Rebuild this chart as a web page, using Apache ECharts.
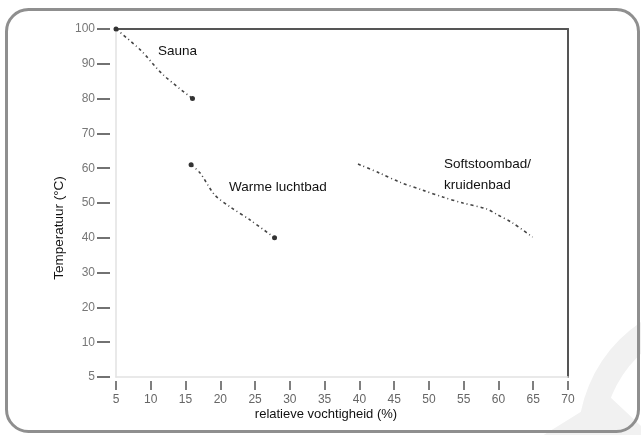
<!DOCTYPE html>
<html><head><meta charset="utf-8">
<script src="https://cdn.jsdelivr.net/npm/echarts@6/dist/echarts.min.js"></script>
<style>html,body{margin:0;padding:0;background:#fff}#c{width:641px;height:435px}</style>
</head><body><div id="c"></div>
<script>
// ---- data ----
const xTicks = [5,10,15,20,25,30,35,40,45,50,55,60,65,70];
const yTicks = [0,10,20,30,40,50,60,70,80,90,100]; // bottom tick is labelled "5"
const yBottomLabel = '5';
const sauna = [[5,100],[8.5,94],[11.8,86.8],[16,80]];
const warme = [[15.8,61],[17.1,58.6],[19.2,52.3],[21.4,48.9],[24.3,45.1],[27.8,40]];
const soft = [[39.8,61.2],[42.9,58.6],[45.8,56],[49.1,53.7],[52,51.7],[54.9,50],[58.3,48.3],[59.7,46.8],[62,44.3],[64.9,40.2]];
const seriesNames = ['Sauna','Warme luchtbad','Softstoombad/\nkruidenbad'];
const xName = 'relatieve vochtigheid (%)';
const yName = 'Temperatuur (°C)';

const font = 'Liberation Sans, Arial, sans-serif';
const chart = echarts.init(document.getElementById('c'), null, {renderer:'canvas'});
const lineStyle = {color:'#444', width:1.6, type:[3,3,1,3]};
function endpoints(arr){
  return arr.map((p,i)=> (i===0||i===arr.length-1) ? {value:p, symbol:'circle', symbolSize:5} : {value:p});
}
const xBase = {type:'value', min:xTicks[0], max:xTicks[xTicks.length-1], interval:5, splitLine:{show:false}};
const yBase = {type:'value', min:yTicks[0], max:yTicks[yTicks.length-1], interval:10, splitLine:{show:false}};
chart.setOption({
  animation:false,
  grid:{left:116, right:73, top:29, bottom:58},
  xAxis:[
    Object.assign({}, xBase, {position:'bottom', axisLine:{onZero:false, lineStyle:{color:'#e2e2e2', width:1.5}}, axisTick:{show:false}, axisLabel:{show:false},
      name:xName, nameLocation:'middle', nameGap:31, nameTextStyle:{fontFamily:font, fontSize:13, color:'#111', padding:[0,32,0,0]}}),
    Object.assign({}, xBase, {position:'bottom', offset:4, axisLine:{show:false, onZero:false}, axisTick:{show:true, length:9, lineStyle:{color:'#555', width:1.5}},
      axisLabel:{show:true, margin:13, fontFamily:font, fontSize:12, color:'#666', formatter:v=>String(v)}}),
    Object.assign({}, xBase, {position:'top', axisLine:{onZero:false, lineStyle:{color:'#555', width:2}}, axisTick:{show:false}, axisLabel:{show:false}})
  ],
  yAxis:[
    Object.assign({}, yBase, {position:'left', axisLine:{show:true, onZero:false, lineStyle:{color:'#e2e2e2', width:1.5}}, axisTick:{show:false}, axisLabel:{show:false},
      name:yName, nameLocation:'middle', nameGap:50, nameTextStyle:{fontFamily:font, fontSize:13.5, color:'#111', padding:[0,50,0,0]}}),
    Object.assign({}, yBase, {position:'left', offset:6, axisLine:{show:false, onZero:false}, axisTick:{show:true, length:13, lineStyle:{color:'#444', width:1.5}},
      axisLabel:{show:true, margin:15, fontFamily:font, fontSize:12, color:'#777', formatter:v=> v===0 ? yBottomLabel : String(v)}}),
    Object.assign({}, yBase, {position:'right', axisLine:{show:true, onZero:false, lineStyle:{color:'#555', width:2}}, axisTick:{show:false}, axisLabel:{show:false}})
  ],
  graphic:[
    {type:'rect', left:4, top:7, shape:{width:632, height:422, r:22}, style:{fill:'none', stroke:'#8f8f8f', lineWidth:3}, z:-10},
    {type:'sector', shape:{cx:720, cy:440, r:142, r0:117, startAngle:Math.PI*1.0, endAngle:Math.PI*1.5}, style:{fill:'#f1f1f1'}, z:-20},
    {type:'polygon', shape:{points:[[542,436],[608,395],[641,426],[641,436]]}, style:{fill:'#f1f1f1'}, z:-20},
    {type:'text', left:158, top:44, style:{text:seriesNames[0], font:'13.5px '+font, fill:'#111'}},
    {type:'text', left:229, top:180, style:{text:seriesNames[1], font:'13.5px '+font, fill:'#111'}},
    {type:'text', left:444, top:154, style:{text:seriesNames[2], font:'13.5px '+font, fill:'#111', lineHeight:21}}
  ],
  series:[
    {type:'line', xAxisIndex:0, yAxisIndex:0, data:endpoints(sauna), symbol:'none', showSymbol:true, smooth:0.3, lineStyle:lineStyle, itemStyle:{color:'#333'}},
    {type:'line', xAxisIndex:0, yAxisIndex:0, data:endpoints(warme), symbol:'none', showSymbol:true, smooth:0.3, lineStyle:lineStyle, itemStyle:{color:'#333'}},
    {type:'line', xAxisIndex:0, yAxisIndex:0, data:soft, symbol:'none', smooth:0.3, lineStyle:lineStyle}
  ]
});
</script></body></html>
